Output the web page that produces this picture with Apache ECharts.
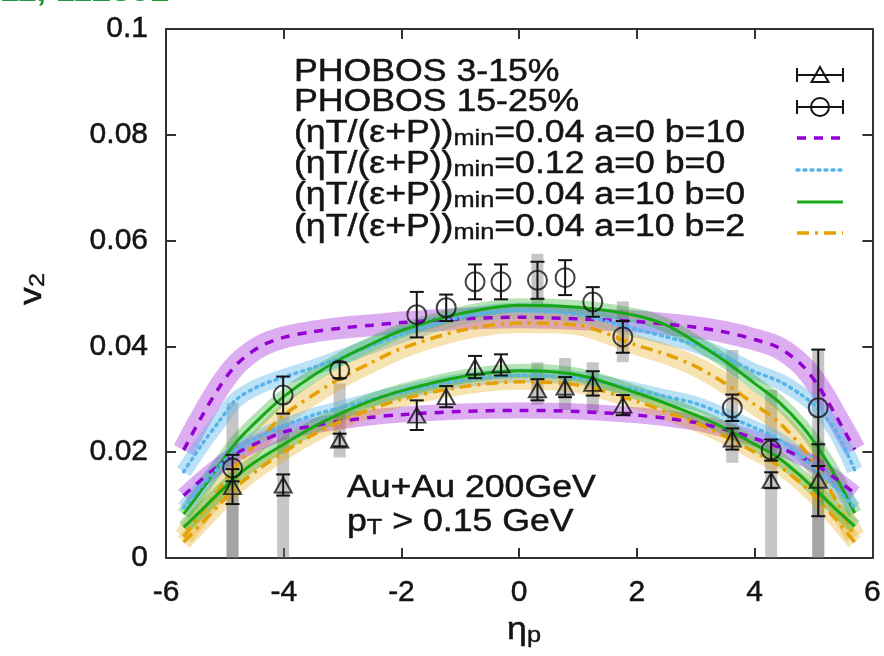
<!DOCTYPE html>
<html>
<head>
<meta charset="utf-8">
<script src="https://cdn.jsdelivr.net/npm/echarts@6/dist/echarts.min.js"></script>
<style>
  html, body { margin: 0; padding: 0; background: #ffffff; }
  #chart { width: 884px; height: 656px; }
</style>
</head>
<body>
<div id="chart"></div>
<script>
const FONT = 'Liberation Sans';

// ---- PHOBOS v2(eta) data ----
const etaTri  = [-4.87, -4.01, -3.05, -1.74, -1.24, -0.75, -0.31, 0.31, 0.78, 1.25, 1.76, 3.62, 4.28, 5.08];
const v2Tri   = [0.0135, 0.0138, 0.0223, 0.0270, 0.0305, 0.0361, 0.0365, 0.0318, 0.0323, 0.0330, 0.0289, 0.0225, 0.0147, 0.0147];
const errTri  = [0.0033, 0.0020, 0.0012, 0.0028, 0.0020, 0.0021, 0.0020, 0.0020, 0.0019, 0.0023, 0.0019, 0.0020, 0.0015, 0.0068];

const etaCirc = [-4.87, -4.01, -3.05, -1.74, -1.24, -0.75, -0.31, 0.31, 0.78, 1.25, 1.76, 3.62, 4.28, 5.08];
const v2Circ  = [0.0170, 0.0308, 0.0355, 0.0460, 0.0473, 0.0522, 0.0522, 0.0525, 0.0530, 0.0484, 0.0418, 0.0284, 0.0204, 0.0284];
const errCirc = [0.0025, 0.0035, 0.0015, 0.0043, 0.0025, 0.0033, 0.0033, 0.0035, 0.0033, 0.0028, 0.0030, 0.0025, 0.0020, 0.0110];

// systematic uncertainty boxes
const sysEta  = [-4.87, -4.87, -4.01, -3.05, 0.31, 0.31, 0.78, 1.25, 1.76, 3.62, 4.28, 5.08, 5.08];
const sysLow  = [0, 0, 0, 0.0190, 0.0290, 0.0480, 0.0280, 0.0275, 0.0370, 0.0180, 0, 0, 0];
const sysHigh = [0.0293, 0.0140, 0.0274, 0.0330, 0.0370, 0.0575, 0.0378, 0.0370, 0.0485, 0.0393, 0.0318, 0.0393, 0.0220];

// ---- viscous hydro curves ----
const etaGrid = [-5.7, -5.4, -5.1, -4.8, -4.4, -4, -3.5, -3, -2.5, -2, -1, 0, 1, 2, 2.5, 3, 3.5, 4, 4.4, 4.8, 5.1, 5.4, 5.7];

// 15-25%
const v2A0B10_1525 = [0.0204, 0.0266, 0.0322, 0.0366, 0.0400, 0.0417, 0.0428, 0.0435, 0.0440, 0.0445, 0.0452, 0.0455, 0.0452, 0.0447, 0.0442, 0.0436, 0.0427, 0.0413, 0.0398, 0.0365, 0.0322, 0.0265, 0.0205];
const v2Eta012_1525 = [0.0163, 0.0213, 0.0258, 0.0300, 0.0326, 0.0342, 0.0360, 0.0380, 0.0402, 0.0422, 0.0455, 0.0468, 0.0460, 0.0432, 0.0418, 0.0403, 0.0380, 0.0352, 0.0335, 0.0308, 0.0280, 0.0236, 0.0166];
const v2A10B0_1525 = [0.0083, 0.0128, 0.0175, 0.0220, 0.0265, 0.0305, 0.0345, 0.0378, 0.0405, 0.0430, 0.0462, 0.0478, 0.0474, 0.0458, 0.0440, 0.0408, 0.0372, 0.0330, 0.0296, 0.0250, 0.0205, 0.0150, 0.0085];
const v2A10B2_1525 = [0.0040, 0.0085, 0.0130, 0.0175, 0.0225, 0.0270, 0.0308, 0.0342, 0.0370, 0.0396, 0.0430, 0.0444, 0.0440, 0.0402, 0.0385, 0.0362, 0.0330, 0.0290, 0.0258, 0.0210, 0.0162, 0.0105, 0.0040];

// 3-15%
const v2A0B10_0315 = [0.0118, 0.0148, 0.0175, 0.0198, 0.0220, 0.0238, 0.0250, 0.0259, 0.0266, 0.0271, 0.0277, 0.0279, 0.0277, 0.0270, 0.0264, 0.0256, 0.0243, 0.0226, 0.0210, 0.0190, 0.0172, 0.0148, 0.0122];
const v2Eta012_0315 = [0.0095, 0.0135, 0.0172, 0.0205, 0.0230, 0.0250, 0.0270, 0.0285, 0.0300, 0.0313, 0.0335, 0.0345, 0.0340, 0.0318, 0.0305, 0.0292, 0.0270, 0.0246, 0.0225, 0.0192, 0.0162, 0.0130, 0.0095];
const v2A10B0_0315 = [0.0058, 0.0090, 0.0123, 0.0155, 0.0188, 0.0215, 0.0248, 0.0275, 0.0298, 0.0316, 0.0342, 0.0354, 0.0346, 0.0312, 0.0292, 0.0270, 0.0245, 0.0215, 0.0190, 0.0153, 0.0122, 0.0090, 0.0060];
const v2A10B2_0315 = [0.0030, 0.0065, 0.0100, 0.0135, 0.0170, 0.0200, 0.0233, 0.0260, 0.0282, 0.0300, 0.0323, 0.0333, 0.0327, 0.0296, 0.0276, 0.0255, 0.0230, 0.0200, 0.0175, 0.0140, 0.0108, 0.0070, 0.0030];

const legendLabels = [
  'PHOBOS 3-15%',
  'PHOBOS 15-25%',
  '(ηT/(ε+P)){s|min}=0.04 a=0 b=10',
  '(ηT/(ε+P)){s|min}=0.12 a=0 b=0',
  '(ηT/(ε+P)){s|min}=0.04 a=10 b=0',
  '(ηT/(ε+P)){s|min}=0.04 a=10 b=2'
];

// ---- styles ----
const PURPLE = '#9400d3', CYAN = '#56b4e9', GREEN = '#16a816', ORANGE = '#e6a000', INK = '#141414';
const models = [
  { color: PURPLE, dash: [9, 8],         width: 3.5, cap: 'butt' },
  { color: CYAN,   dash: [2, 5],         width: 3.5, cap: 'round' },
  { color: GREEN,  dash: 'solid',        width: 3,   cap: 'butt' },
  { color: ORANGE, dash: [12, 6, 3, 6],  width: 3.5, cap: 'butt' }
];
const curves = [
  { v: v2A0B10_1525,  m: 0, band: 22, bandOp: 0.32 },
  { v: v2Eta012_1525, m: 1, band: 16, bandOp: 0.40 },
  { v: v2A10B2_1525,  m: 3, band: 20, bandOp: 0.30 },
  { v: v2A10B0_1525,  m: 2, band: 14, bandOp: 0.32 },
  { v: v2A0B10_0315,  m: 0, band: 16, bandOp: 0.32 },
  { v: v2Eta012_0315, m: 1, band: 14, bandOp: 0.40 },
  { v: v2A10B2_0315,  m: 3, band: 16, bandOp: 0.30 },
  { v: v2A10B0_0315,  m: 2, band: 14, bandOp: 0.32 }
];

const zip = (xs, ys) => xs.map((x, i) => [x, ys[i]]);

const series = [];

// systematic boxes, drawn behind everything
series.push({
  type: 'custom',
  z: 1,
  silent: true,
  data: sysEta.map((e, i) => [e, sysLow[i], sysHigh[i]]),
  renderItem(params, api) {
    const lo = api.coord([api.value(0), api.value(1)]);
    const hi = api.coord([api.value(0), api.value(2)]);
    const w = 12;
    return {
      type: 'rect',
      shape: { x: lo[0] - w / 2, y: hi[1], width: w, height: lo[1] - hi[1] },
      style: { fill: 'rgba(120,120,120,0.42)' }
    };
  }
});

// uncertainty bands (wide translucent strokes), then centre lines
curves.forEach(c => {
  const m = models[c.m];
  series.push({
    type: 'line', z: 2, silent: true, smooth: 0.3, showSymbol: false,
    data: zip(etaGrid, c.v),
    lineStyle: { color: m.color, width: c.band, opacity: c.bandOp, cap: 'butt', join: 'round' }
  });
});
curves.forEach(c => {
  const m = models[c.m];
  series.push({
    type: 'line', z: 3, silent: true, smooth: 0.3, showSymbol: false,
    data: zip(etaGrid, c.v),
    lineStyle: { color: m.color, width: m.width, type: m.dash, cap: m.cap }
  });
});

// statistical error bars
function errorBars(etas, vals, errs) {
  return {
    type: 'custom', z: 5, silent: true,
    data: etas.map((e, i) => [e, vals[i], errs[i]]),
    renderItem(params, api) {
      const x = api.value(0), v = api.value(1), e = api.value(2);
      const t = api.coord([x, v + e]);
      const b = api.coord([x, v - e]);
      const hw = 7;
      const st = { stroke: INK, lineWidth: 2 };
      return {
        type: 'group',
        children: [
          { type: 'line', shape: { x1: t[0], y1: t[1], x2: b[0], y2: b[1] }, style: st },
          { type: 'line', shape: { x1: t[0] - hw, y1: t[1], x2: t[0] + hw, y2: t[1] }, style: st },
          { type: 'line', shape: { x1: b[0] - hw, y1: b[1], x2: b[0] + hw, y2: b[1] }, style: st }
        ]
      };
    }
  };
}
series.push(errorBars(etaTri, v2Tri, errTri));
series.push(errorBars(etaCirc, v2Circ, errCirc));

series.push({
  type: 'scatter', z: 6, silent: true,
  data: zip(etaTri, v2Tri),
  symbol: 'triangle', symbolSize: [17, 15],
  itemStyle: { color: 'rgba(0,0,0,0)', borderColor: INK, borderWidth: 2 }
});
series.push({
  type: 'scatter', z: 6, silent: true,
  data: zip(etaCirc, v2Circ),
  symbol: 'circle', symbolSize: 19,
  itemStyle: { color: 'rgba(0,0,0,0)', borderColor: INK, borderWidth: 2 }
});

// ---- key (text left, samples right) ----
const WIDE = 1.15;               // horizontally widened lettering
const keyTextX = 294;
const keyTextY = [72, 102, 133, 164, 195, 227];
const keySampleY = [75, 107, 138, 170, 202, 233];
const keyX1 = 797, keyX2 = 843, keyXC = 820;
const textBase = { fontSize: 31, lineHeight: 34, fontFamily: FONT, fill: INK, stroke: INK, lineWidth: 0.5 };
const rich = { s: { fontSize: 22, fontFamily: FONT, fill: INK, stroke: INK, lineWidth: 0.4, lineHeight: 14, verticalAlign: 'bottom' } };

const graphics = [];
legendLabels.forEach((txt, i) => {
  graphics.push({
    type: 'text', x: keyTextX, y: keyTextY[i], scaleX: WIDE, z: 10,
    style: Object.assign({ text: txt, rich, align: 'left', verticalAlign: 'middle' }, textBase)
  });
});
const errSample = (y) => [
  { type: 'line', shape: { x1: keyX1, y1: y, x2: keyX2, y2: y }, style: { stroke: INK, lineWidth: 2 } },
  { type: 'line', shape: { x1: keyX1, y1: y - 7, x2: keyX1, y2: y + 7 }, style: { stroke: INK, lineWidth: 2 } },
  { type: 'line', shape: { x1: keyX2, y1: y - 7, x2: keyX2, y2: y + 7 }, style: { stroke: INK, lineWidth: 2 } }
];
errSample(keySampleY[0]).forEach(g => graphics.push(g));
graphics.push({ type: 'polygon', shape: { points: [[keyXC - 8.5, keySampleY[0] + 7], [keyXC + 8.5, keySampleY[0] + 7], [keyXC, keySampleY[0] - 8]] },
  style: { fill: 'rgba(0,0,0,0)', stroke: INK, lineWidth: 2 } });
errSample(keySampleY[1]).forEach(g => graphics.push(g));
graphics.push({ type: 'circle', shape: { cx: keyXC, cy: keySampleY[1], r: 9 },
  style: { fill: 'rgba(0,0,0,0)', stroke: INK, lineWidth: 2 } });
models.forEach((m, i) => {
  const y = keySampleY[2 + i];
  graphics.push({ type: 'line', shape: { x1: keyX1, y1: y, x2: keyX2, y2: y },
    style: { stroke: m.color, lineWidth: m.width, lineDash: m.dash === 'solid' ? null : m.dash, lineCap: m.cap } });
});

// collision system annotation
graphics.push({ type: 'text', x: 347, y: 488, scaleX: WIDE, z: 10,
  style: Object.assign({ text: 'Au+Au 200GeV', align: 'left', verticalAlign: 'middle' }, textBase) });
graphics.push({ type: 'text', x: 347, y: 522, scaleX: WIDE, z: 10,
  style: Object.assign({ text: 'p{s|T} > 0.15 GeV', rich, align: 'left', verticalAlign: 'middle' }, textBase) });

// axis titles
graphics.push({ type: 'text', x: 32, y: 289, rotation: Math.PI / 2, scaleX: WIDE, z: 10,
  style: Object.assign({ text: 'v{s|2}', rich, align: 'center', verticalAlign: 'middle' }, textBase) });
graphics.push({ type: 'text', x: 524, y: 630, scaleX: WIDE, z: 10,
  style: Object.assign({ text: 'η{s|p}', rich, align: 'center', verticalAlign: 'middle' }, textBase) });

// journal reference line at the top edge
graphics.push({ type: 'text', x: 0, y: 8, scaleX: WIDE, z: 10,
  style: { text: '11, 112301', fontSize: 30, fontWeight: 'bold', fontFamily: FONT, fill: '#1f9a3c', align: 'left', verticalAlign: 'bottom' } });

const axisLine = { show: true, onZero: false, lineStyle: { color: '#333333', width: 2 } };
const axisTick = { show: true, inside: true, length: 10, lineStyle: { color: '#333333', width: 2 } };
const labelStyle = { color: INK, fontSize: 30, fontFamily: FONT, textBorderColor: INK, textBorderWidth: 0.5 };

const option = {
  animation: false,
  backgroundColor: '#ffffff',
  grid: { left: 166, right: 4, top: 29, bottom: 98, containLabel: false },
  xAxis: [
    { type: 'value', min: -6, max: 6, interval: 2, position: 'bottom',
      axisLine, axisTick, splitLine: { show: false },
      axisLabel: Object.assign({ margin: 20 }, labelStyle) },
    { type: 'value', min: -6, max: 6, interval: 2, position: 'top',
      axisLine, axisTick, splitLine: { show: false }, axisLabel: { show: false } }
  ],
  yAxis: [
    { type: 'value', min: 0, max: 0.1, interval: 0.02, position: 'left',
      axisLine, axisTick, splitLine: { show: false },
      axisLabel: Object.assign({ margin: 18 }, labelStyle) },
    { type: 'value', min: 0, max: 0.1, interval: 0.02, position: 'right',
      axisLine, axisTick, splitLine: { show: false }, axisLabel: { show: false } }
  ],
  graphic: graphics,
  series
};

const chart = echarts.init(document.getElementById('chart'), null, { renderer: 'canvas' });
chart.setOption(option);
</script>
</body>
</html>
